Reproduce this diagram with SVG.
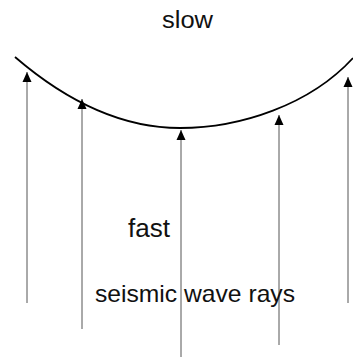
<svg xmlns="http://www.w3.org/2000/svg" width="353" height="358" viewBox="0 0 353 358">
<style>
.lbl{font-family:"Liberation Sans",Arial,sans-serif;fill:#111}
.ray{stroke:#555;stroke-width:1;fill:none;marker-end:url(#ah)}
.front{stroke:#000;stroke-width:1.8;fill:none}
</style>
<defs>
<marker id="ah" markerUnits="userSpaceOnUse" markerWidth="10" markerHeight="10" viewBox="0 0 10 10" refX="10" refY="5" orient="auto">
<path d="M0,0.5 L10,5 L0,9.5 Z" fill="#000"/>
</marker>
</defs>
<rect width="353" height="358" fill="#fff"/>
<g id="wavefront">
<path class="front" d="M15,57 Q97.5,128 180,128 C240,128 310,105 353,58"/>
</g>
<g id="connectors">
<line class="ray" x1="27" y1="303" x2="27" y2="72"/>
<line class="ray" x1="82" y1="329" x2="82" y2="99"/>
<line class="ray" x1="181" y1="357" x2="181" y2="130"/>
<line class="ray" x1="279" y1="345" x2="279" y2="115"/>
<line class="ray" x1="348" y1="303" x2="348" y2="77"/>
</g>
<g id="label-slow"><text class="lbl" x="162" y="28" font-size="23" textLength="51" lengthAdjust="spacingAndGlyphs">slow</text></g>
<g id="label-fast"><text class="lbl" x="128" y="237" font-size="25" textLength="42" lengthAdjust="spacingAndGlyphs">fast</text></g>
<g id="label-rays"><text class="lbl" x="95" y="302" font-size="24" textLength="200" lengthAdjust="spacingAndGlyphs">seismic wave rays</text></g>
</svg>
